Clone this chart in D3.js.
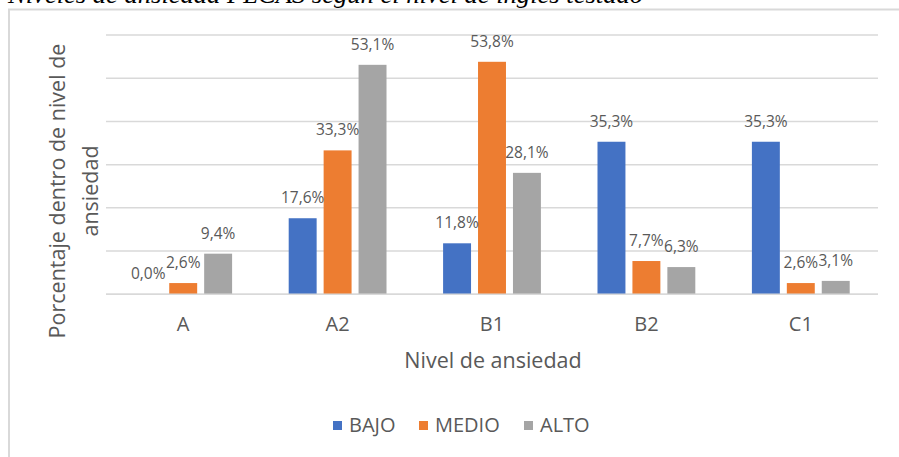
<!DOCTYPE html>
<html>
<head>
<meta charset="utf-8">
<script src="https://cdn.jsdelivr.net/npm/d3@7"></script>
<style>
  html, body { margin: 0; padding: 0; background: #fff; }
  svg { display: block; }
</style>
</head>
<body>
<script>
const categories = ["A", "A2", "B1", "B2", "C1"];
const seriesNames = ["BAJO", "MEDIO", "ALTO"];
const bajo  = [0.0, 17.6, 11.8, 35.3, 35.3];
const medio = [2.6, 33.3, 53.8, 7.7, 2.6];
const alto  = [9.4, 53.1, 28.1, 6.3, 3.1];
const yTicks = [0, 10, 20, 30, 40, 50, 60];
const colors = ["#4472C4", "#ED7D31", "#A5A5A5"];
const title = "Niveles de ansiedad FLCAS según el nivel de inglés testado";
const yTitle = ["Porcentaje dentro de nivel de", "ansiedad"];
const xTitle = "Nivel de ansiedad";

const W = 899, H = 457;
const svg = d3.select("body").append("svg").attr("width", W).attr("height", H);
const fontUI = "'Open Sans', 'Noto Sans', sans-serif";
const textCol = "#595959";

// frame
svg.append("rect").attr("x", 9).attr("y", 9.5).attr("width", 900).attr("height", 460)
  .attr("fill", "none").attr("stroke", "#d9d9d9").attr("stroke-width", 2);

// title (cut at top, as in the source)
svg.append("text").attr("x", 8).attr("y", 3)
  .attr("font-family", "'Liberation Serif', 'Times New Roman', serif")
  .attr("font-style", "italic").attr("font-size", 26)
  .attr("textLength", 635).attr("lengthAdjust", "spacingAndGlyphs")
  .attr("fill", "#000").text(title);

const x0 = d3.scaleBand().domain(categories).range([106, 878]).paddingInner(0).paddingOuter(0);
const x1 = d3.scaleBand().domain(seriesNames).range([0, x0.bandwidth()]).paddingInner(0.2).paddingOuter(0.81);
const y = d3.scaleLinear().domain([0, 60]).range([294.3, 35]);

// gridlines
svg.append("g").selectAll("line").data(yTicks).join("line")
  .attr("x1", 106).attr("x2", 878)
  .attr("y1", d => y(d)).attr("y2", d => y(d))
  .attr("stroke", "#d9d9d9").attr("stroke-width", 1.5);

const data = [bajo, medio, alto];
const rows = [];
categories.forEach((c, i) => {
  seriesNames.forEach((s, j) => rows.push({ c, s, j, v: data[j][i] }));
});

svg.append("g").selectAll("rect").data(rows).join("rect")
  .attr("x", d => x0(d.c) + x1(d.s))
  .attr("width", x1.bandwidth())
  .attr("y", d => y(d.v))
  .attr("height", d => y(0) - y(d.v))
  .attr("fill", d => colors[d.j]);

// baseline
svg.append("line").attr("x1", 106).attr("x2", 878).attr("y1", y(0)).attr("y2", y(0))
  .attr("stroke", "#d9d9d9").attr("stroke-width", 1.5);

// data labels
svg.append("g").selectAll("text").data(rows).join("text")
  .attr("x", d => x0(d.c) + x1(d.s) + x1.bandwidth() / 2)
  .attr("y", d => y(d.v) - 15)
  .attr("text-anchor", "middle")
  .attr("font-family", fontUI).attr("font-size", 15.5)
  .attr("fill", textCol)
  .text(d => d.v.toFixed(1).replace(".", ",") + "%");

// category labels
const xAxis = d3.axisBottom(x0).tickSize(0).tickPadding(0);
const gx = svg.append("g").attr("transform", `translate(0, ${y(0)})`).call(xAxis);
gx.select(".domain").remove();
gx.selectAll("text").attr("dy", null).attr("y", 37)
  .attr("font-family", fontUI).attr("font-size", 20).attr("fill", textCol);

// axis titles
svg.append("text").attr("x", 493).attr("y", 368).attr("text-anchor", "middle")
  .attr("font-family", fontUI).attr("font-size", 21.5).attr("fill", textCol).text(xTitle);

const yt = svg.append("text").attr("transform", "translate(0,191) rotate(-90)")
  .attr("text-anchor", "middle").attr("font-family", fontUI).attr("font-size", 21.5).attr("fill", textCol);
yt.append("tspan").attr("x", 0).attr("y", 65).text(yTitle[0]);
yt.append("tspan").attr("x", 0).attr("y", 98).text(yTitle[1]);

// legend
const legX = [333, 419, 524];
const lg = svg.append("g").selectAll("g").data(seriesNames).join("g")
  .attr("transform", (d, i) => `translate(${legX[i]}, 0)`);
lg.append("rect").attr("x", 0).attr("y", 421).attr("width", 9).attr("height", 9)
  .attr("fill", (d, i) => colors[i]);
lg.append("text").attr("x", 16).attr("y", 432)
  .attr("font-family", fontUI).attr("font-size", 20).attr("fill", textCol).text(d => d);
</script>
</body>
</html>
